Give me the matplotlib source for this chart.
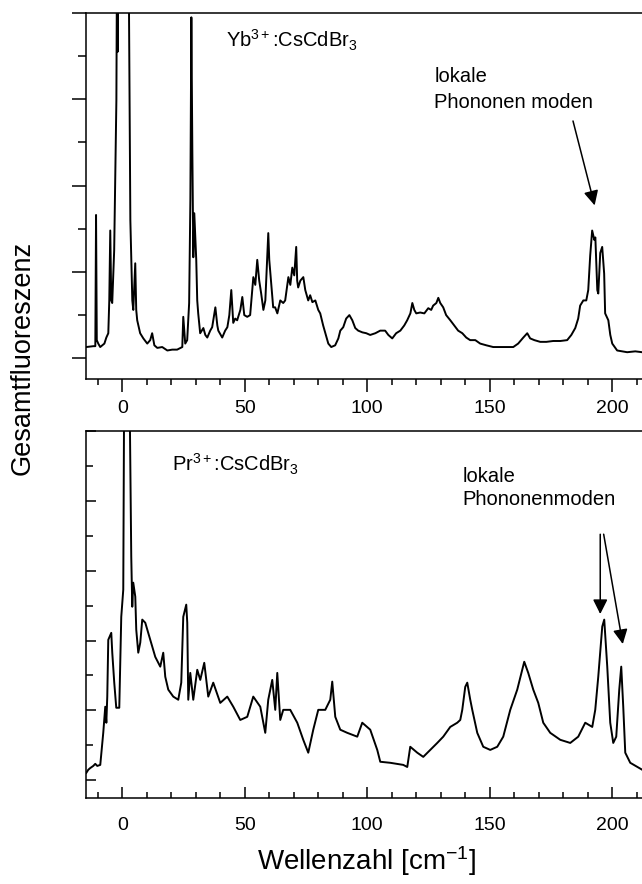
import matplotlib
matplotlib.use("Agg")
import matplotlib.pyplot as plt
from matplotlib.ticker import MultipleLocator
import numpy as np

plt.rcParams['font.family'] = ['Liberation Sans', 'DejaVu Sans']
plt.rcParams['mathtext.fontset'] = 'custom'
plt.rcParams['mathtext.rm'] = 'Liberation Sans'
plt.rcParams['mathtext.it'] = 'Liberation Sans:italic'
plt.rcParams['mathtext.bf'] = 'Liberation Sans:bold'

# Yb3+:CsCdBr3 spectrum (wavenumber cm^-1, intensity a.u.)
yb_wn = [-14.7, -11.8, -11.0, -10.7, -10.4, -9.8, -9.0, -7.3, -6.5, -5.7, -5.3, -4.9, -4.5, -4.1,
         -3.3, -2.4, -2.1, -1.9, -1.4, 2.3, 3.3, 4.1, 4.5, 5.3, 5.7, 6.1, 7.3, 8.6, 10.2, 11.4,
         12.2, 13.1, 14.3, 16.3, 18.4, 20.4, 22.4, 24.5, 24.9, 25.7, 26.5, 27.3, 27.8, 28.2, 28.6,
         29.0, 29.4, 30.2, 30.6, 31.0, 31.8, 33.1, 33.9, 34.7, 35.9, 36.7, 38.0, 38.8, 39.2, 40.8,
         42.0, 42.9, 43.7, 44.5, 45.3, 46.1, 46.9, 48.2, 49.0, 49.8, 51.0, 52.2, 53.5, 54.3, 55.1,
         55.9, 56.7, 57.6, 58.4, 59.6, 60.0, 60.8, 61.6, 62.4, 63.3, 64.5, 65.7, 66.5, 67.8, 68.6,
         69.4, 70.2, 71.0, 71.4, 71.8, 72.7, 73.9, 74.7, 75.9, 76.7, 77.6, 78.8, 80.0, 80.8, 82.0,
         82.9, 84.1, 85.3, 86.9, 88.2, 89.0, 90.2, 91.4, 92.7, 93.9, 95.1, 96.3, 98.0, 99.6, 101.2,
         103.3, 105.3, 107.3, 108.6, 110.2, 111.8, 113.5, 115.1, 116.3, 117.6, 118.4, 119.2, 120.0,
         121.6, 123.3, 124.9, 126.1, 126.9, 128.2, 129.0, 129.8, 131.0, 132.2, 133.9, 135.5, 137.1,
         138.8, 140.4, 142.0, 144.1, 146.1, 148.6, 151.4, 154.3, 157.1, 159.6, 161.6, 163.7, 165.3,
         166.5, 168.2, 170.6, 173.1, 175.9, 178.8, 181.6, 183.3, 184.9, 186.1, 186.9, 188.2, 189.4,
         190.2, 191.0, 191.8, 192.7, 193.1, 193.9, 194.3, 195.1, 195.9, 196.7, 197.1, 198.4, 199.2,
         200.0, 202.0, 204.1, 206.1, 209.4, 212.2]
yb_int = [0.13, 0.14, 0.14, 1.66, 0.21, 0.17, 0.13, 0.17, 0.24, 0.29, 0.67, 1.48, 0.67, 0.64,
          1.25, 2.99, 5.0, 3.55, 5.5, 6.0, 1.60, 0.67, 0.56, 1.10, 0.56, 0.44, 0.29, 0.23, 0.17, 0.21,
          0.29, 0.15, 0.12, 0.13, 0.09, 0.10, 0.10, 0.13, 0.48, 0.17, 0.21, 0.64, 1.83, 3.95, 2.41,
          1.17, 1.68, 1.14, 0.67, 0.52, 0.29, 0.35, 0.27, 0.24, 0.32, 0.36, 0.59, 0.38, 0.32, 0.24,
          0.32, 0.36, 0.50, 0.79, 0.41, 0.46, 0.44, 0.56, 0.71, 0.50, 0.48, 0.50, 0.94, 0.85, 1.14,
          0.90, 0.75, 0.56, 0.67, 1.45, 1.14, 0.87, 0.59, 0.59, 0.52, 0.67, 0.64, 0.67, 0.94, 0.85,
          1.05, 0.96, 1.29, 0.90, 0.82, 0.90, 0.94, 0.79, 0.67, 0.73, 0.65, 0.67, 0.56, 0.52, 0.38,
          0.29, 0.17, 0.13, 0.15, 0.23, 0.32, 0.36, 0.46, 0.50, 0.44, 0.35, 0.32, 0.30, 0.29, 0.27,
          0.29, 0.32, 0.32, 0.27, 0.23, 0.29, 0.32, 0.38, 0.44, 0.52, 0.64, 0.56, 0.52,
          0.53, 0.52, 0.58, 0.56, 0.61, 0.64, 0.70, 0.64, 0.59, 0.50, 0.44, 0.38, 0.32,
          0.29, 0.24, 0.21, 0.21, 0.17, 0.15, 0.13, 0.13, 0.13, 0.13, 0.17, 0.24, 0.29,
          0.23, 0.21, 0.19, 0.19, 0.20, 0.20, 0.21, 0.27, 0.35, 0.46, 0.61, 0.67, 0.67,
          0.79, 1.19, 1.48, 1.37, 1.40, 0.79, 0.75, 1.22, 1.29, 0.98, 0.52, 0.44, 0.27,
          0.17, 0.09, 0.08, 0.07, 0.08, 0.07]

# Pr3+:CsCdBr3 spectrum
pr_wn = [-14.69, -13.88, -13.06, -11.84, -11.02, -10.2, -8.98, -7.76, -6.94, -6.5, -6.12, -5.71,
         -4.49, -4.08, -3.27, -2.45, -1.22, -0.41, 0.41, 0.82, 2.86, 3.67, 4.08, 4.49, 5.31, 5.71,
         6.53, 7.35, 8.16, 9.39, 11.43, 13.47, 15.51, 16.73, 17.55, 18.78, 20.82, 22.86, 24.08,
         24.9, 26.12, 26.53, 26.94, 27.76, 28.98, 30.61, 31.84, 33.47, 35.1, 37.14, 40.0, 42.86,
         45.31, 48.16, 51.02, 53.47, 56.33, 58.37, 59.59, 61.22, 62.45, 63.27, 64.49, 65.71, 68.57,
         71.43, 73.88, 75.92, 77.96, 80.0, 82.86, 84.9, 85.71, 86.94, 88.98, 91.84, 95.92, 97.96,
         101.22, 104.08, 105.31, 109.39, 114.69, 116.33, 117.55, 120.41, 122.86, 125.71, 128.57,
         131.02, 133.88, 136.73, 137.96, 138.78, 140.0, 140.82, 142.04, 142.86, 144.9, 147.35,
         150.2, 153.06, 155.51, 158.37, 161.22, 163.27, 164.08, 165.71, 167.76, 169.8, 171.84,
         174.69, 178.78, 182.86, 186.12, 188.98, 191.84, 193.06, 194.29, 195.92, 196.73, 197.96,
         199.18, 200.41, 201.63, 202.86, 203.67, 204.49, 205.31, 207.35, 212.24]
pr_int = [0.20, 0.29, 0.34, 0.40, 0.46, 0.40, 0.43, 1.35, 2.10, 1.64, 2.39, 4.02,
          4.22, 3.65, 2.79, 2.07, 2.07, 4.68, 5.46, 12.0, 12.0, 6.41, 4.97, 5.66, 5.26, 4.31,
          3.65, 3.94, 4.60, 4.51, 4.02, 3.53, 3.25, 3.65, 2.96, 2.59, 2.39, 2.30, 2.79,
          4.68, 5.03, 4.51, 2.30, 3.07, 2.30, 3.16, 2.87, 3.36, 2.39, 2.79, 2.21, 2.39,
          2.10, 1.72, 1.81, 2.39, 2.10, 1.35, 2.30, 2.87, 2.01, 3.07, 1.72, 2.01, 2.01,
          1.64, 1.15, 0.78, 1.44, 2.01, 2.01, 2.30, 2.82, 1.81, 1.44, 1.35, 1.24, 1.64,
          1.44, 0.86, 0.52, 0.49, 0.43, 0.37, 0.95, 0.78, 0.66, 0.86, 1.06,
          1.24, 1.52, 1.64, 1.72, 2.01, 2.67, 2.79, 2.30, 2.01, 1.35, 0.95,
          0.86, 0.95, 1.24, 2.01, 2.59, 3.16, 3.39, 3.07, 2.59, 2.21, 1.64,
          1.35, 1.15, 1.06, 1.24, 1.64, 1.52, 2.01, 2.96, 4.40, 4.60, 3.25,
          1.64, 1.06, 1.24, 2.59, 3.25, 2.10, 0.78, 0.49, 0.29]

fig = plt.figure(figsize=(6.42, 8.84), dpi=100)
ax1 = fig.add_axes([0.1332, 0.5713, 0.8777, 0.4140])
ax2 = fig.add_axes([0.1332, 0.0973, 0.8777, 0.4146])

for ax in (ax1, ax2):
    ax.set_xlim(-15, 215)
    ax.xaxis.set_major_locator(MultipleLocator(50))
    ax.xaxis.set_minor_locator(MultipleLocator(10))
    ax.tick_params(labelleft=False, labelsize=14)
    for s in ax.spines.values():
        s.set_linewidth(1.1)

ax1.plot(yb_wn, yb_int, color='black', lw=1.4)
ax1.set_ylim(-0.24, 4.0)
ax1.yaxis.set_major_locator(MultipleLocator(1))
ax1.yaxis.set_minor_locator(MultipleLocator(0.5))
ax1.tick_params(axis='x', which='major', direction='out', length=9.4, width=1.1, pad=5.5)
ax1.tick_params(axis='x', which='minor', direction='out', length=4.3, width=1.1)
ax1.tick_params(axis='y', which='major', direction='out', length=10, width=1.1)
ax1.tick_params(axis='y', which='minor', direction='out', length=5.5, width=1.1)

ax1.text(42.4, 3.60, r'Yb$^{3+}$:CsCdBr$_{3}$', fontsize=14.5, va='baseline')
ax1.text(127.3, 3.20, 'lokale', fontsize=14.5, va='baseline')
ax1.text(127.3, 2.90, 'Phononen moden', fontsize=14.5, va='baseline')
ax1.annotate('', xy=(193.1, 1.74), xytext=(183.7, 2.78),
             arrowprops=dict(arrowstyle='-|>', color='black', lw=1.1, mutation_scale=22))

ax2.plot(pr_wn, pr_int, color='black', lw=1.4)
ax2.set_ylim(-0.52, 10.0)
ax2.yaxis.set_major_locator(MultipleLocator(2))
ax2.yaxis.set_minor_locator(MultipleLocator(1))
ax2.tick_params(axis='x', which='major', direction='in', length=8, width=1.1, pad=14)
ax2.tick_params(axis='x', which='minor', direction='in', length=4.3, width=1.1)
ax2.tick_params(axis='y', which='major', direction='in', length=7, width=1.1)
ax2.tick_params(axis='y', which='minor', direction='in', length=5, width=1.1)

ax2.text(20.4, 8.85, r'Pr$^{3+}$:CsCdBr$_{3}$', fontsize=14.5, va='baseline')
ax2.text(138.8, 8.56, 'lokale', fontsize=14.5, va='baseline')
ax2.text(138.8, 7.90, 'Phononenmoden', fontsize=14.5, va='baseline')
ax2.annotate('', xy=(195.1, 4.68), xytext=(195.1, 7.13),
             arrowprops=dict(arrowstyle='-|>', color='black', lw=1.1, mutation_scale=22))
ax2.annotate('', xy=(204.5, 3.82), xytext=(196.3, 7.13),
             arrowprops=dict(arrowstyle='-|>', color='black', lw=1.1, mutation_scale=22))

fig.text(23 / 642, 1 - 358 / 884, 'Gesamtfluoreszenz', rotation=90, fontsize=19.5,
         ha='center', va='center')
fig.text(367 / 642, 1 - 870 / 884, r'Wellenzahl [cm$^{-1}$]', fontsize=20,
         ha='center', va='baseline')

fig.savefig('out.png', dpi=100)
